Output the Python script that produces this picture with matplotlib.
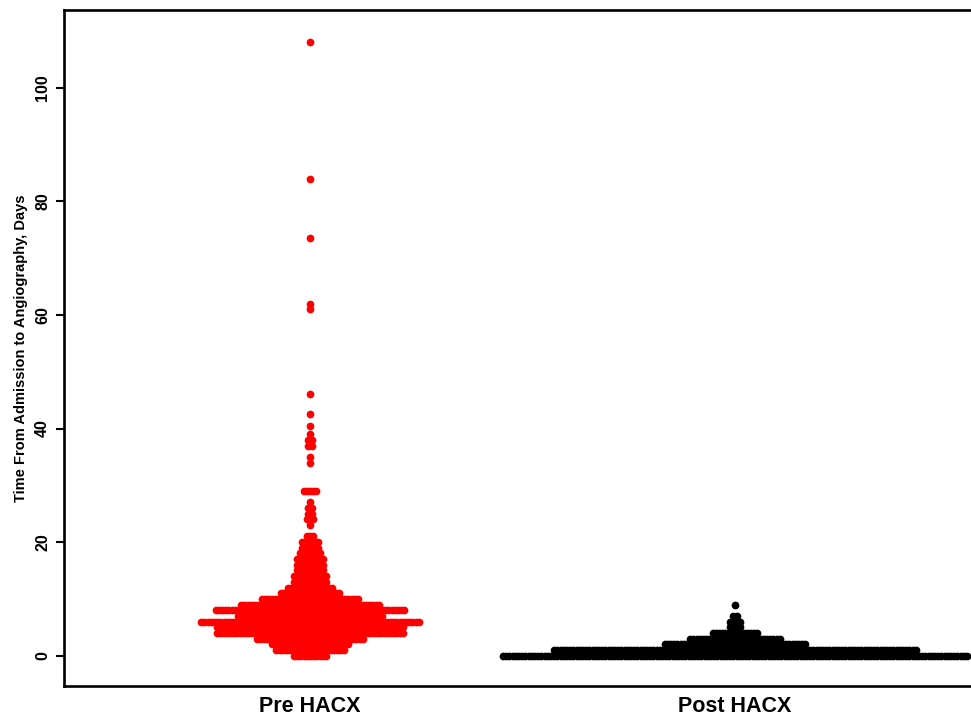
import numpy as np
import matplotlib
matplotlib.use("Agg")
import matplotlib.pyplot as plt

plt.rcParams['font.family'] = ['Liberation Sans', 'DejaVu Sans']
plt.rcParams['font.weight'] = 'bold'

# === Dados (dias, número de pacientes em cada linha) ===
groups = ['Pre HACX', 'Post HACX']
colors = ['#ff0000', '#000000']

pre_days = [0, 1, 2, 3, 4, 5, 6, 7, 8, 9, 10, 11, 12, 13, 14, 15, 16, 17, 18, 19, 20, 21,
            23, 24, 25, 26, 27, 29,
            34, 35, 37, 38, 39, 40.5, 42.5, 46, 61, 62, 73.5, 84, 108]
pre_counts = [11, 22, 25, 34, 59, 59, 69, 46, 60, 44, 31, 19, 15, 11, 11, 9, 9, 9, 7, 6, 6, 3,
              1, 3, 2, 2, 1, 5,
              1, 1, 2, 2, 1, 1, 1, 1, 1, 1, 1, 1, 1]

post_days = [0, 1, 2, 3, 4, 5, 6, 7, 9]
post_counts = [146, 114, 45, 29, 15, 4, 4, 2, 1]

yticks = [0, 20, 40, 60, 80, 100]

# === Configuração da figura ===
W, H = 971, 716
fig = plt.figure(figsize=(W / 100, H / 100), dpi=100)
left_px, right_px, top_px, bottom_px = 64, 971, 10, 686
ax = fig.add_axes([left_px / W, 1 - bottom_px / H,
                   (right_px - left_px) / W, (bottom_px - top_px) / H])

px_per_unit = 425.0          # distância em pixels entre os dois grupos
xmin = 1 - (310 - left_px) / px_per_unit
ax.set_xlim(xmin, xmin + (right_px - left_px) / px_per_unit)
ax.set_ylim(-5.34, 113.7)

dx = 3.2 / px_per_unit       # espaçamento horizontal entre pontos


def swarm(days, counts):
    xs, ys = [], []
    for d, n in zip(days, counts):
        off = (np.arange(n) - (n - 1) / 2) * dx
        xs.extend(off)
        ys.extend([d] * n)
    return np.array(xs), np.array(ys)


for i, (days, counts) in enumerate([(pre_days, pre_counts), (post_days, post_counts)]):
    xo, yv = swarm(days, counts)
    ax.scatter(i + 1 + xo, yv, s=31, color=colors[i], linewidths=0, zorder=3)

# === Eixos ===
for side in ['left', 'top', 'bottom']:
    ax.spines[side].set_linewidth(1.9)
ax.spines['right'].set_visible(False)

ax.set_yticks(yticks)
ax.set_yticklabels([str(t) for t in yticks], rotation=90, va='center',
                   fontsize=11.5, fontweight='bold')
ax.tick_params(axis='y', length=6, width=1.5, pad=4)

ax.set_xticks([1, 2])
ax.set_xticklabels(groups, fontsize=15.5, fontweight='bold')
ax.tick_params(axis='x', length=0, pad=7)

ax.set_ylabel('Time From Admission to Angiography, Days', fontsize=10.5,
              fontweight='bold', labelpad=5)

fig.savefig('out.png', dpi=100, facecolor='white')
